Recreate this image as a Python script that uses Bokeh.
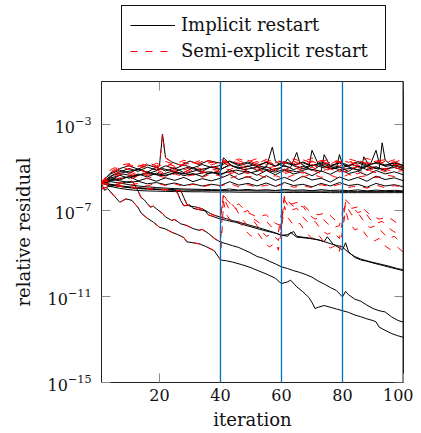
from bokeh.plotting import figure
from bokeh.layouts import column
from bokeh.models import Legend, LegendItem, Span, FixedTicker, Range1d
from bokeh.embed import file_html
from bokeh.resources import INLINE

# ---------------- data (log10 of relative residual) ----------------
x_ticks = [20, 40, 60, 80, 100]
y_ticks = [1e-15, 1e-11, 1e-7, 1e-3]
restart_iters = [40, 60, 80]
series_names = ["Implicit restart", "Semi-explicit restart"]
X_MIN, X_MAX = 1, 100
Y_MIN, Y_MAX = 1e-15, 1e-1

# common iteration grid of the stagnating curves
BX = [1, 4, 7, 10, 13, 16, 19, 22, 25, 28, 31, 34, 37, 40, 43, 46, 49, 52, 55, 58,
      61, 64, 67, 70, 73, 76, 79, 82, 85, 88, 91, 94, 97, 100]

# implicit restart, stagnating curves
K1 = [-5.72, -5.88, -5.97, -6.03, -6.07, -6.09, -6.10, -6.11, -6.12, -6.12, -6.13, -6.13, -6.14, -6.14, -6.14, -6.15, -6.15,
      -6.15, -6.15, -6.16, -6.16, -6.16, -6.16, -6.16, -6.16, -6.17, -6.17, -6.17, -6.17, -6.17, -6.17, -6.17, -6.17, -6.17]
K2 = [-5.70, -5.80, -5.88, -5.94, -5.98, -6.00, -6.02, -6.03, -6.04, -6.05, -6.06, -6.06, -6.07, -6.07, -6.08, -6.08, -6.08,
      -6.09, -6.09, -6.09, -6.09, -6.10, -6.10, -6.10, -6.10, -6.10, -6.11, -6.11, -6.11, -6.11, -6.11, -6.11, -6.12, -6.12]
K3 = [-5.74, -5.66, -5.72, -5.80, -5.86, -5.90, -5.93, -5.96, -5.98, -6.00, -6.01, -6.02, -6.03, -6.04, -6.00, -6.05, -6.02,
      -6.06, -6.03, -6.07, -6.02, -6.06, -6.04, -6.08, -6.03, -6.07, -6.05, -6.08, -6.04, -6.09, -6.05, -6.08, -6.06, -6.09]
K4 = [-5.70, -5.48, -5.58, -5.42, -5.62, -5.50, -5.64, -5.48, -5.60, -5.46, -5.66, -5.52, -5.62, -5.50, -5.32, -5.56, -5.42,
      -5.62, -5.38, -5.60, -5.46, -5.64, -5.40, -5.58, -5.50, -5.68, -5.44, -5.60, -5.46, -5.64, -5.40, -5.56, -5.48, -5.62]
K5 = [-5.68, -5.30, -5.12, -5.26, -5.06, -5.22, -4.98, -5.16, -5.02, -5.24, -5.00, -5.18, -4.96, -5.10, -4.86, -5.06, -4.92,
      -5.14, -4.96, -5.16, -4.90, -5.10, -4.94, -5.14, -4.88, -5.06, -4.98, -5.18, -4.92, -5.10, -4.96, -5.14, -4.90, -5.06]
K6 = [-5.66, -5.60, -5.36, -5.50, -5.30, -5.44, -5.26, -5.40, -5.22, -5.38, -5.28, -5.42, -5.20, -5.36, -5.10, -5.32, -5.18,
      -5.36, -5.14, -5.34, -5.12, -5.30, -5.20, -5.38, -5.16, -5.32, -5.10, -5.28, -5.18, -5.36, -5.14, -5.30, -5.20, -5.34]
K7 = [-5.72, -5.40, -5.20, -5.05, -5.18, -4.98, -5.12, -4.92, -5.06, -4.88, -5.02, -4.86, -5.00, -4.90, -4.72, -4.92, -4.80,
      -4.96, -4.76, -4.94, -4.78, -4.90, -4.74, -4.92, -4.80, -4.96, -4.74, -4.90, -4.78, -4.94, -4.76, -4.88, -4.80, -4.92]
K8 = [-5.70, -5.55, -5.62, -5.70, -5.64, -5.76, -5.70, -5.80, -5.72, -5.84, -5.76, -5.86, -5.78, -5.84, -5.66, -5.82, -5.74,
      -5.86, -5.72, -5.88, -5.70, -5.84, -5.78, -5.90, -5.74, -5.86, -5.70, -5.84, -5.78, -5.92, -5.74, -5.86, -5.80, -5.90]

# implicit restart, curves with spikes
S1_x = [1, 5, 9, 13, 17, 21, 25, 29, 33, 37, 40, 43, 47, 51, 55, 57, 58, 60, 63, 65,
        66, 68, 71, 74, 77, 80, 83, 86, 89, 91, 92, 94, 97, 100]
S1 = [-5.70, -5.35, -5.20, -5.10, -5.25, -5.05, -5.18, -5.00, -5.12, -4.98, -5.08, -4.90, -5.02, -4.88, -5.00, -4.05, -4.70,
      -4.92, -5.00, -4.30, -4.80, -4.96, -4.88, -5.02, -4.92, -5.00, -4.86, -5.00, -4.90, -4.20, -4.78, -4.95, -4.88, -4.98]
S2_x = [1, 4, 8, 12, 16, 20, 24, 28, 32, 36, 40, 41, 44, 48, 52, 56, 60, 62, 64, 67,
        69, 70, 72, 75, 78, 79, 80, 82, 85, 88, 92, 93, 94, 96, 100]
S2 = [-5.72, -5.50, -5.30, -5.42, -5.22, -5.36, -5.18, -5.30, -5.14, -5.28, -5.20, -4.55, -4.95, -5.10, -4.98, -5.12, -5.00,
      -4.60, -4.92, -5.06, -4.98, -4.20, -4.82, -5.00, -5.06, -4.40, -4.85, -4.98, -5.10, -4.96, -5.08, -3.85, -4.65, -4.90, -5.02]
S3_x = [1, 6, 11, 16, 21, 26, 31, 36, 40, 45, 50, 54, 58, 61, 65, 69, 73, 74, 76, 79,
        83, 86, 87, 89, 93, 97, 100]
S3 = [-5.74, -5.55, -5.40, -5.28, -5.38, -5.24, -5.34, -5.20, -5.30, -5.12, -5.24, -5.10, -5.22, -5.08, -5.20, -5.06, -5.18,
      -4.40, -4.95, -5.10, -5.04, -5.16, -4.50, -4.96, -5.08, -5.00, -5.12]

# semi-explicit restart, stagnating curves
R1 = [-5.70, -5.20, -4.95, -5.10, -4.88, -5.02, -4.80, -4.96, -4.78, -4.92, -4.74, -4.88, -4.76, -4.70, -4.82, -4.68, -4.86,
      -4.72, -4.90, -4.66, -4.84, -4.70, -4.88, -4.74, -4.68, -4.86, -4.72, -4.90, -4.70, -4.84, -4.66, -4.82, -4.74, -4.86]
R2 = [-5.72, -5.40, -5.18, -5.30, -5.08, -5.22, -5.02, -5.16, -4.98, -5.12, -4.94, -5.08, -4.96, -5.04, -5.10, -4.92, -5.06,
      -4.88, -5.04, -4.94, -5.12, -4.90, -5.02, -4.86, -5.06, -4.92, -5.10, -4.96, -4.88, -5.04, -4.94, -5.08, -4.90, -5.02]
R3 = [-5.66, -5.55, -5.32, -5.44, -5.26, -5.38, -5.20, -5.34, -5.16, -5.30, -5.12, -5.26, -5.14, -5.22, -5.30, -5.16, -5.28,
      -5.10, -5.24, -5.08, -5.30, -5.14, -5.26, -5.12, -5.28, -5.06, -5.22, -5.16, -5.30, -5.10, -5.24, -5.08, -5.20, -5.14]
R4 = [-5.74, -5.10, -4.90, -4.82, -4.96, -4.78, -4.92, -4.72, -4.86, -4.66, -4.80, -4.64, -4.78, -4.62, -4.76, -4.60, -4.74,
      -4.58, -4.72, -4.64, -4.78, -4.60, -4.74, -4.56, -4.70, -4.62, -4.76, -4.60, -4.72, -4.58, -4.70, -4.64, -4.76, -4.62]
R5 = [-5.68, -5.62, -5.48, -5.56, -5.40, -5.52, -5.36, -5.48, -5.30, -5.44, -5.34, -5.46, -5.28, -5.40, -5.50, -5.36, -5.46,
      -5.32, -5.48, -5.38, -5.52, -5.34, -5.44, -5.30, -5.46, -5.36, -5.50, -5.32, -5.44, -5.38, -5.48, -5.34, -5.42, -5.36]
R6 = [-5.74, -5.78, -5.70, -5.82, -5.74, -5.86, -5.72, -5.84, -5.76, -5.88, -5.78, -5.90, -5.80, -5.86, -5.74, -5.90, -5.80,
      -5.92, -5.82, -5.88, -5.76, -5.92, -5.84, -5.94, -5.80, -5.90, -5.78, -5.92, -5.86, -5.96, -5.82, -5.94, -5.84, -5.92]
R7 = [-5.66, -5.30, -5.02, -4.86, -5.00, -4.82, -4.98, -4.80, -4.94, -4.76, -4.90, -4.72, -4.88, -4.74, -4.92, -4.78, -4.96,
      -4.80, -4.70, -4.88, -4.74, -4.92, -4.78, -4.70, -4.90, -4.76, -4.94, -4.72, -4.86, -4.76, -4.92, -4.70, -4.88, -4.78]
R8 = [-5.70, -5.46, -5.26, -5.38, -5.18, -5.32, -5.12, -5.28, -5.08, -5.22, -5.04, -5.20, -5.06, -5.16, -5.24, -5.02, -5.18,
      -5.00, -5.20, -5.04, -5.22, -5.00, -5.14, -4.98, -5.18, -5.02, -5.20, -5.06, -4.98, -5.14, -5.04, -5.20, -5.00, -5.12]

# curves identical up to the first restart (pre), then implicit / semi-explicit
A_pre_x = [1, 2, 3, 4, 5, 6, 7, 8, 9, 11, 12, 13, 14, 16, 18, 20, 22, 24, 26, 28, 29, 31, 33, 35, 37, 38, 40]
A_pre = [-5.76, -6.06, -5.98, -6.14, -6.30, -6.46, -6.62, -6.54, -6.46, -6.53, -6.70, -6.86, -7.12, -7.36, -7.54, -7.78,
         -7.86, -8.01, -8.12, -8.26, -8.46, -8.50, -8.55, -8.66, -8.80, -8.88, -9.30]
A_impl_x = [42, 44, 47, 50, 52, 55, 58, 60, 62, 63, 65, 67, 69, 70, 71, 72, 74, 76, 78, 80, 82, 84, 86, 88, 90, 91, 92, 93,
            96, 98, 100]
A_impl = [-9.34, -9.40, -9.52, -9.66, -9.78, -9.95, -10.15, -10.40, -10.32, -10.24, -10.55, -10.78, -11.05, -11.28, -11.56,
          -11.50, -11.42, -11.50, -11.58, -11.66, -11.74, -11.86, -11.94, -12.04, -12.12, -12.18, -12.42, -12.50, -12.72,
          -12.82, -12.90]
A_semi_x = [41, 42, 44, 46, 48, 50, 52, 54, 56, 58, 59, 61, 62, 64, 66, 68, 70, 72, 74, 76, 78, 79, 81, 82, 84, 86, 88, 90,
            92, 94, 96, 98, 100]
A_semi = [-6.60, -7.20, -7.60, -7.50, -7.90, -8.20, -8.00, -8.40, -8.70, -8.50, -8.85, -6.80, -7.30, -7.70, -7.60, -8.00,
          -8.30, -8.10, -8.50, -8.75, -8.60, -8.90, -7.00, -7.50, -7.90, -7.80, -8.20, -8.45, -8.30, -8.65, -8.85, -8.70, -8.95]

B_pre_x = [1, 3, 5, 7, 9, 11, 12, 13, 14, 15, 16, 17, 18, 19, 21, 22, 24, 25, 27, 29, 31, 33, 34, 36, 38, 40]
B_pre = [-6.00, -5.90, -5.84, -5.76, -5.68, -5.64, -5.82, -6.10, -6.40, -6.50, -6.68, -6.84, -6.80, -6.92, -7.14, -7.30,
         -7.46, -7.42, -7.62, -7.70, -7.84, -7.92, -7.88, -8.06, -8.30, -8.47]
B_impl_x = [42, 44, 46, 48, 50, 52, 54, 56, 58, 60, 62, 64, 66, 68, 70, 72, 74, 76, 78, 80, 81, 82, 84, 86, 88, 90, 92, 94,
            96, 98, 100]
B_impl = [-8.55, -8.64, -8.72, -8.85, -8.98, -9.14, -9.22, -9.36, -9.48, -9.62, -9.70, -9.80, -9.88, -9.98, -10.10, -10.28,
          -10.42, -10.58, -10.72, -11.02, -10.76, -10.92, -11.12, -11.22, -11.40, -11.56, -11.66, -11.72, -11.94, -12.10,
          -12.20]
B_semi_x = [41, 43, 45, 47, 49, 51, 53, 55, 57, 59, 61, 63, 65, 67, 69, 71, 73, 75, 77, 79, 81, 83, 85, 87, 89, 91, 93, 95,
            97, 100]
B_semi = [-6.40, -7.00, -6.90, -7.40, -7.70, -7.50, -7.90, -8.20, -8.10, -8.40, -6.50, -7.00, -6.90, -7.30, -7.60, -7.50,
          -7.90, -8.10, -8.00, -8.30, -6.70, -7.20, -7.10, -7.50, -7.80, -7.70, -8.00, -8.30, -8.20, -8.60]

C1_pre_x = [1, 4, 7, 10, 13, 16, 19, 22, 25, 27, 28, 29, 30, 32, 34, 36, 37, 38, 40]
C1_pre = [-5.74, -5.82, -5.88, -5.92, -5.96, -5.99, -6.02, -6.04, -6.06, -6.08, -6.40, -6.72, -6.80, -6.84, -6.92, -7.08,
          -7.16, -7.22, -7.31]
C1_impl_x = [42, 44, 47, 50, 53, 56, 58, 60, 62, 64, 65, 67, 70, 72, 74, 75, 77, 79, 80, 81, 82, 84, 86, 88, 90, 93, 96, 100]
C1_impl = [-7.38, -7.47, -7.58, -7.70, -7.82, -7.95, -8.04, -8.16, -8.12, -7.98, -8.20, -8.24, -8.30, -8.36, -8.45, -8.22,
           -8.58, -8.74, -8.84, -8.50, -8.92, -9.18, -9.30, -9.36, -9.44, -9.55, -9.66, -9.80]
C1_semi_x = [41, 43, 45, 47, 49, 51, 53, 55, 57, 59, 61, 63, 65, 67, 69, 71, 73, 75, 77, 79, 81, 83, 85, 87, 89, 91, 93, 95,
             97, 100]
C1_semi = [-6.30, -6.60, -6.90, -7.10, -7.00, -7.40, -7.60, -7.50, -7.80, -8.00, -6.30, -6.70, -6.90, -6.80, -7.20, -7.40,
           -7.30, -7.60, -7.80, -7.70, -6.50, -6.80, -7.10, -7.00, -7.40, -7.60, -7.50, -7.80, -8.00, -8.10]

C2_pre_x = [1, 4, 7, 10, 13, 16, 19, 22, 25, 26, 27, 28, 30, 31, 33, 35, 36, 38, 40]
C2_pre = [-5.70, -5.78, -5.85, -5.90, -5.94, -5.97, -6.00, -6.02, -6.04, -6.20, -6.55, -6.78, -6.74, -6.90, -6.96, -7.02,
          -7.20, -7.30, -7.40]
C2_impl_x = [42, 45, 48, 51, 54, 57, 60, 62, 63, 65, 68, 71, 73, 76, 78, 80, 82, 84, 86, 89, 92, 95, 98, 100]
C2_impl = [-7.46, -7.55, -7.68, -7.80, -7.92, -8.02, -8.14, -8.20, -8.02, -8.24, -8.28, -8.34, -8.40, -8.54, -8.62, -8.70,
           -8.96, -9.14, -9.26, -9.38, -9.48, -9.58, -9.70, -9.76]
C2_semi_x = [41, 42, 44, 46, 49, 52, 55, 58, 60, 61, 63, 66, 69, 72, 75, 78, 80, 81, 83, 86, 89, 92, 95, 98, 100]
C2_semi = [-6.20, -6.50, -6.80, -6.70, -7.10, -7.30, -7.20, -7.60, -7.70, -6.40, -6.70, -6.60, -7.00, -7.20, -7.10, -7.50,
           -7.60, -6.60, -6.90, -6.80, -7.20, -7.40, -7.30, -7.60, -7.70]

SP_pre_x = [1, 4, 7, 10, 13, 16, 19, 20, 21, 22, 24, 27, 30, 33, 36, 40]
SP_pre = [-5.70, -5.25, -5.05, -4.92, -5.08, -4.88, -5.00, -4.92, -3.45, -4.55, -4.74, -4.90, -4.70, -4.86, -4.68, -4.80]
SP_impl_x = [43, 46, 49, 52, 55, 58, 61, 64, 67, 70, 73, 76, 79, 82, 85, 88, 91, 94, 97, 100]
SP_impl = [-4.70, -4.86, -4.74, -4.90, -4.76, -4.92, -4.72, -4.88, -4.78, -4.94, -4.74, -4.90, -4.80, -4.96, -4.72, -4.88,
           -4.80, -4.92, -4.76, -4.90]
SP_semi_x = [43, 46, 49, 52, 55, 58, 61, 64, 67, 70, 73, 76, 79, 82, 85, 88, 91, 94, 97, 100]
SP_semi = [-4.64, -4.82, -4.66, -4.84, -4.62, -4.78, -4.66, -4.82, -4.64, -4.80, -4.68, -4.84, -4.62, -4.76, -4.66, -4.82,
           -4.70, -4.78, -4.64, -4.80]

# ---------------- style / geometry ----------------
FONT = "DejaVu Serif"
BLACK = "#000000"
RED = "#ff0000"
BLUE = "#0072bd"
TICK = "#8a8a8a"
FRAME = "#222222"
DASH = "7 8"
W = 413
LEFT = 101
RIGHT = W - 403
LEG_H = 70
MAIN_H = 362
FRAME_W = W - LEFT - RIGHT      # frame size in px
FRAME_H = 302
TICK_PX = 9
X_PER_PX = (X_MAX - X_MIN) / FRAME_W
DEC_PER_PX = 14.0 / FRAME_H     # 14 decades on the y axis


def res(logs):
    return [10.0 ** v for v in logs]


# ---------------- main figure ----------------
p = figure(width=W, height=MAIN_H, y_axis_type="log",
           x_range=Range1d(X_MIN, X_MAX), y_range=Range1d(Y_MIN, Y_MAX),
           output_backend="svg", toolbar_location=None,
           min_border_left=LEFT, min_border_right=RIGHT, min_border_top=11, min_border_bottom=50)
p.grid.visible = False
p.outline_line_color = FRAME
p.outline_line_width = 1
p.background_fill_color = "white"
p.border_fill_color = "white"

black_curves = [(BX, K1), (BX, K2), (BX, K3), (BX, K8), (BX, K4), (BX, K5), (BX, K6), (BX, K7),
                (S1_x, S1), (S2_x, S2), (S3_x, S3),
                (A_pre_x + A_impl_x, A_pre + A_impl),
                (B_pre_x + B_impl_x, B_pre + B_impl),
                (C1_pre_x + C1_impl_x, C1_pre + C1_impl),
                (C2_pre_x + C2_impl_x, C2_pre + C2_impl),
                (SP_pre_x + SP_impl_x, SP_pre + SP_impl)]
red_curves = [(BX, R1), (BX, R2), (BX, R3), (BX, R4), (BX, R5), (BX, R6), (BX, R7), (BX, R8),
              (A_pre_x + A_semi_x, A_pre + A_semi),
              (B_pre_x + B_semi_x, B_pre + B_semi),
              (C1_pre_x + C1_semi_x, C1_pre + C1_semi),
              (C2_pre_x + C2_semi_x, C2_pre + C2_semi),
              (SP_pre_x + SP_semi_x, SP_pre + SP_semi)]

for xs, ys in black_curves:
    p.line(xs, res(ys), line_color=BLACK, line_width=1)
for xs, ys in red_curves:
    p.line(xs, res(ys), line_color=RED, line_width=1, line_dash=DASH)

for it in restart_iters:
    p.add_layout(Span(location=it, dimension="height", line_color=BLUE, line_width=1.3))

# mirrored inward ticks on the top and right sides, and the right border of the box
top_len = 10 ** (-TICK_PX * DEC_PER_PX)
p.segment(x0=x_ticks, y0=[Y_MAX] * len(x_ticks), x1=x_ticks, y1=[Y_MAX * top_len] * len(x_ticks),
          line_color=TICK, line_width=1)
p.segment(x0=[X_MAX] * len(y_ticks), y0=y_ticks, x1=[X_MAX - TICK_PX * X_PER_PX] * len(y_ticks), y1=y_ticks,
          line_color=TICK, line_width=1)
p.segment(x0=[X_MAX], y0=[Y_MIN], x1=[X_MAX], y1=[Y_MAX], line_color=FRAME, line_width=2)

# axes
for ax in p.xaxis + p.yaxis:
    ax.axis_line_color = None
    ax.major_tick_in = TICK_PX
    ax.major_tick_out = 0
    ax.minor_tick_line_color = None
    ax.major_tick_line_color = TICK
    ax.major_tick_line_width = 1
    ax.major_label_text_font = FONT
    ax.major_label_text_font_size = "16px"
    ax.major_label_text_color = "#111111"
    ax.axis_label_text_font = FONT
    ax.axis_label_text_font_size = "18px"
    ax.axis_label_text_font_style = "normal"
    ax.axis_label_text_color = "#111111"
p.xaxis.ticker = FixedTicker(ticks=x_ticks)
p.yaxis.ticker = FixedTicker(ticks=y_ticks)
p.xaxis.axis_label = "iteration"
p.yaxis.axis_label = "relative residual"
p.xaxis.major_label_standoff = 6
p.yaxis.major_label_standoff = 10
p.xaxis.axis_label_standoff = 5
p.yaxis.axis_label_standoff = 11

# ---------------- legend strip above the plot ----------------
leg = figure(width=W, height=LEG_H, x_range=Range1d(0, 1), y_range=Range1d(0, 1),
             output_backend="svg", toolbar_location=None,
             x_axis_location=None, y_axis_location=None,
             min_border_left=LEFT, min_border_right=RIGHT, min_border_top=0, min_border_bottom=0)
leg.grid.visible = False
leg.outline_line_color = None
leg.background_fill_color = "white"
leg.border_fill_color = "white"
# legend proxies, placed outside the visible range of the strip
proxy_black = leg.line([5, 6], [5, 6], line_color=BLACK, line_width=1)
proxy_red = leg.line([5, 6], [5, 6], line_color=RED, line_width=1, line_dash=DASH)

legend = Legend(items=[LegendItem(label=series_names[0], renderers=[proxy_black]),
                       LegendItem(label=series_names[1], renderers=[proxy_red])],
                location=(20, 0), orientation="vertical")
legend.label_text_font = FONT
legend.label_text_font_size = "18px"
legend.label_text_color = "#111111"
legend.border_line_color = "#111111"
legend.border_line_width = 1
legend.border_line_alpha = 1
legend.background_fill_color = "white"
legend.background_fill_alpha = 1
legend.glyph_width = 45
legend.glyph_height = 20
legend.label_height = 20
legend.label_width = 196
legend.label_standoff = 6
legend.padding = 8
legend.spacing = 5
legend.margin = 0
leg.add_layout(legend, "center")

layout = column(leg, p, spacing=0)
open("out.html", "w").write(file_html(layout, INLINE))
